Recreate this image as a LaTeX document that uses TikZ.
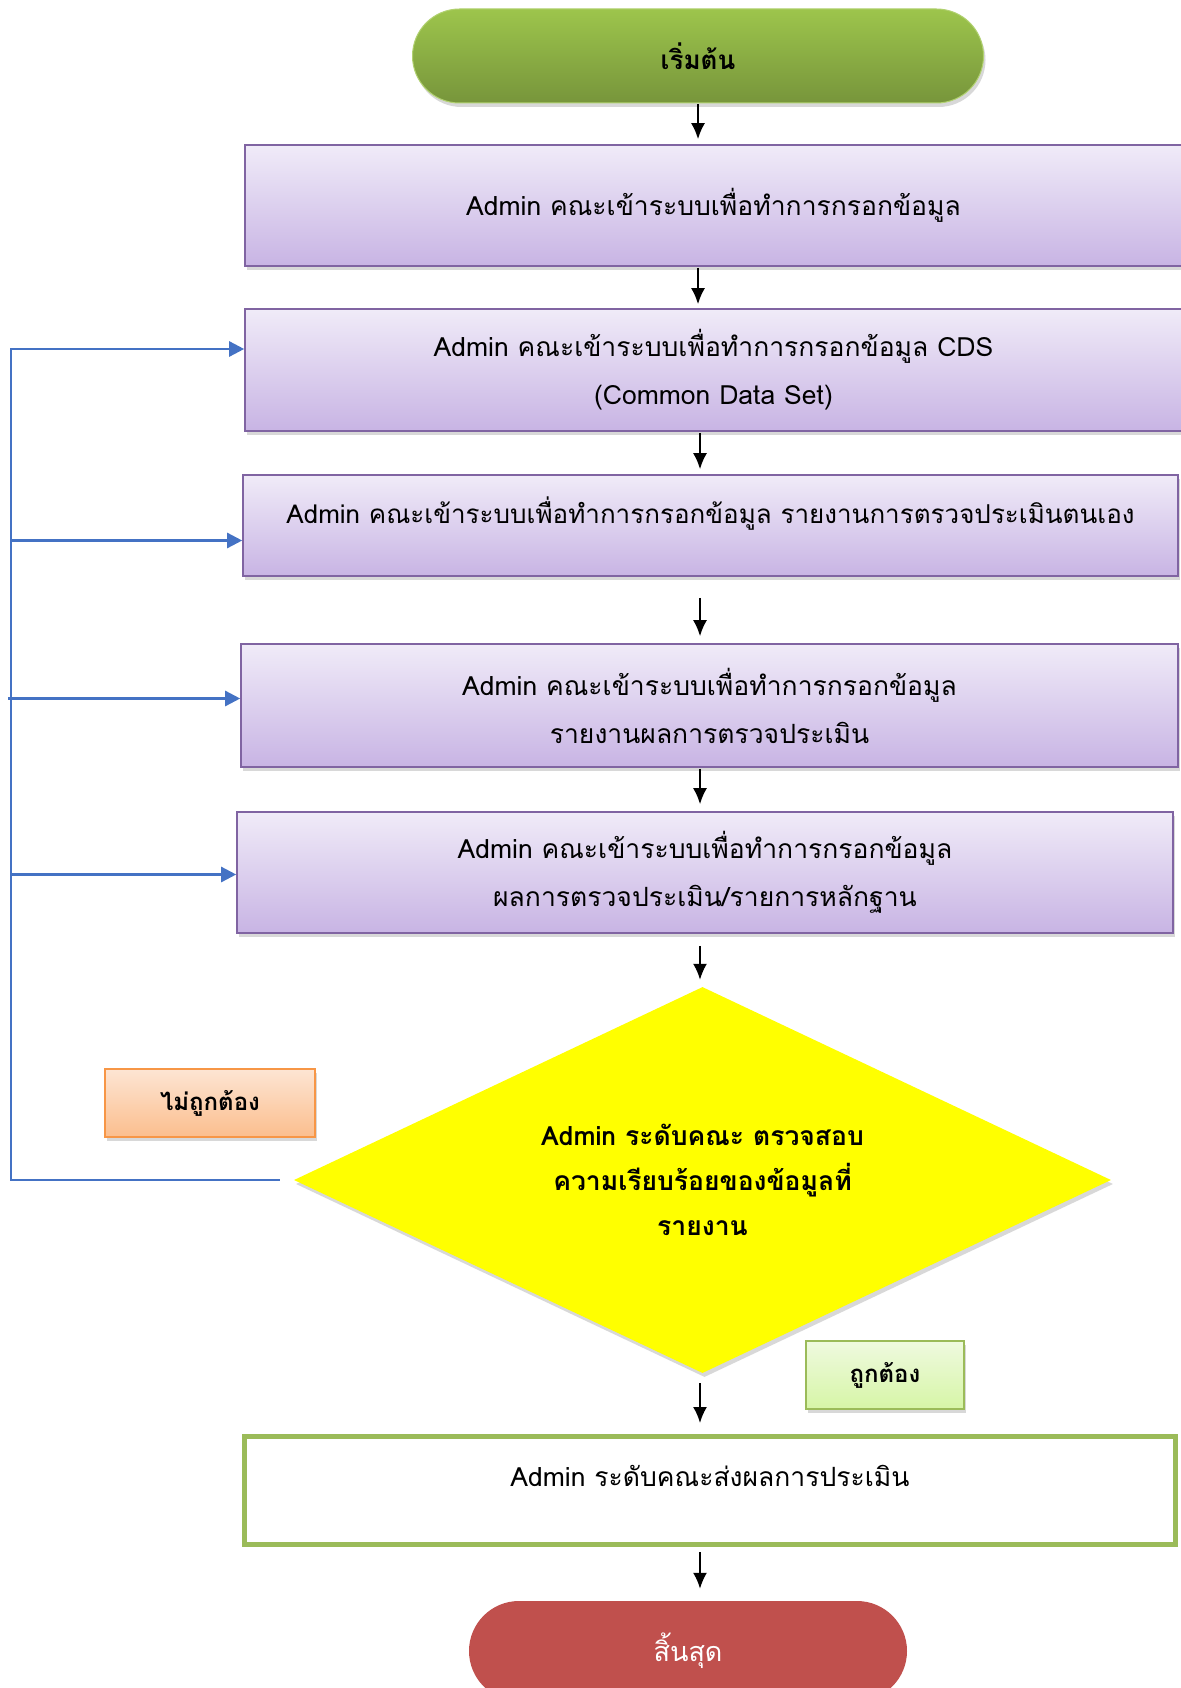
\documentclass[tikz,border=0pt]{standalone}
\usepackage{fontspec}
\setmainfont[Script=Thai]{Loma}
\usetikzlibrary{shapes.misc,shapes.geometric,shadows,arrows.meta}

\definecolor{startgreen}{HTML}{9DC54C}
\definecolor{startdark}{HTML}{77953B}
\definecolor{boxedge}{HTML}{8064A2}
\definecolor{boxtop}{HTML}{F0EBF8}
\definecolor{boxbot}{HTML}{C8B4E4}
\definecolor{fbblue}{HTML}{4472C4}
\definecolor{nogood}{HTML}{F79646}
\definecolor{notop}{HTML}{FDE5D3}
\definecolor{nobot}{HTML}{FBBE8E}
\definecolor{okedge}{HTML}{9BBB59}
\definecolor{oktop}{HTML}{EFFADF}
\definecolor{okbot}{HTML}{D6F5A6}
\definecolor{stopred}{HTML}{C0504D}
\definecolor{checkyellow}{HTML}{FFFF00}

\begin{document}
\begin{tikzpicture}[x=1pt,y=-1pt,
  shade/.style={drop shadow={opacity=0.3,shadow xshift=2pt,shadow yshift=-4pt}},
  term/.style={rounded rectangle,minimum height=94pt,inner sep=0pt},
  stepbox/.style={rectangle,draw=boxedge,line width=1.6pt,top color=boxtop,
    bottom color=boxbot,shade,inner xsep=4pt,font=\fontsize{26.5}{48}\selectfont},
  tag/.style={rectangle,line width=1.6pt,minimum height=68pt,shade,
    font=\bfseries\fontsize{24}{28}\selectfont},
  flow/.style={-{Latex[length=16pt,width=14pt]},line width=2pt},
  fb/.style={line width=2.5pt,draw=fbblue},
  fbarrow/.style={fb,-{Triangle[length=15pt,width=15pt]}}]
  \useasboundingbox[fill=white] (0,0) rectangle (1180,1688);

  \node[term,minimum width=571pt,draw=startgreen!80!white,line width=1pt,
    top color=startgreen,bottom color=startdark,shade,
    font=\bfseries\fontsize{26}{30}\selectfont] (start) at (698,56) {เริ่มต้น};

  \node[stepbox,minimum width=937pt,minimum height=121pt] (b1) at (713.5,205.5)
    {Admin คณะเข้าระบบเพื่อทำการกรอกข้อมูล};
  \node[stepbox,align=center,minimum width=937pt,minimum height=122pt] (b2) at (713.5,370)
    {Admin คณะเข้าระบบเพื่อทำการกรอกข้อมูล CDS\\(Common Data Set)};
  \node[stepbox,minimum width=935pt,minimum height=101pt,text depth=30pt,
    font=\fontsize{26}{48}\selectfont] (b3) at (710.5,525.5)
    {Admin คณะเข้าระบบเพื่อทำการกรอกข้อมูล รายงานการตรวจประเมินตนเอง};
  \node[stepbox,align=center,minimum width=937pt,minimum height=123pt] (b4) at (709.5,705.5)
    {Admin คณะเข้าระบบเพื่อทำการกรอกข้อมูล\\รายงานผลการตรวจประเมิน};
  \node[stepbox,align=center,minimum width=936pt,minimum height=121pt] (b5) at (705,872.5)
    {Admin คณะเข้าระบบเพื่อทำการกรอกข้อมูล\\ผลการตรวจประเมิน/รายการหลักฐาน};

  \node[diamond,aspect=2.1,minimum width=817pt,minimum height=386pt,inner sep=0pt,
    fill=checkyellow,shade,align=center,font=\bfseries\fontsize{26.5}{45}\selectfont]
    (chk) at (702.5,1180)
    {Admin ระดับคณะ ตรวจสอบ\\ความเรียบร้อยของข้อมูลที่\\รายงาน};

  \node[tag,minimum width=210pt,draw=nogood,top color=notop,bottom color=nobot]
    (no) at (210,1103) {ไม่ถูกต้อง};
  \node[tag,minimum width=158pt,draw=okedge,top color=oktop,bottom color=okbot]
    (ok) at (885,1375) {ถูกต้อง};

  \node[rectangle,draw=okedge,line width=5pt,fill=white,minimum width=931pt,
    minimum height=108pt,text depth=30pt,font=\fontsize{26.5}{48}\selectfont]
    (fin) at (710,1490.5) {Admin ระดับคณะส่งผลการประเมิน};

  \node[term,minimum width=438pt,minimum height=100pt,fill=stopred,text=white,
    font=\fontsize{27}{30}\selectfont] (stop) at (688,1651) {สิ้นสุด};

  % main flow
  \coordinate (axis) at (700,0);
  \draw[flow,shorten <=1pt,shorten >=5pt] (start.south) -- (start.south |- b1.north);
  \draw[flow,shorten <=1pt,shorten >=4pt] (b1.south -| start.south) -- (b2.north -| start.south);
  \draw[flow,shorten <=1pt,shorten >=5pt] (axis |- b2.south) -- (axis |- b3.north);
  \draw[flow,shorten <=21pt,shorten >=7pt] (axis |- b3.south) -- (axis |- b4.north);
  \draw[flow,shorten <=1pt,shorten >=7pt] (axis |- b4.south) -- (axis |- b5.north);
  \draw[flow,shorten <=12pt,shorten >=7pt] (axis |- b5.south) -- (axis |- chk.north);
  \draw[flow,shorten <=10pt,shorten >=11pt] (axis |- chk.south) -- (axis |- fin.north);
  \draw[flow,shorten <=5pt,shorten >=12pt] (axis |- fin.south) -- (axis |- stop.north);

  % back to the input steps
  \coordinate (rail) at (11,0);
  \coordinate (in2) at ([yshift=21pt]b2.west);
  \coordinate (in3) at ([yshift=-15pt]b3.west);
  \coordinate (in4) at ([yshift=7pt]b4.west);
  \coordinate (in5) at ([yshift=-2pt]b5.west);
  \draw[fbarrow] ([xshift=-14pt]chk.west) -| (rail |- in2) -- (in2);
  \draw[fbarrow] (rail |- in3) -- (in3);
  \draw[fbarrow] ([xshift=-3pt]rail |- in4) -- (in4);
  \draw[fbarrow] (rail |- in5) -- (in5);
\end{tikzpicture}
\end{document}
